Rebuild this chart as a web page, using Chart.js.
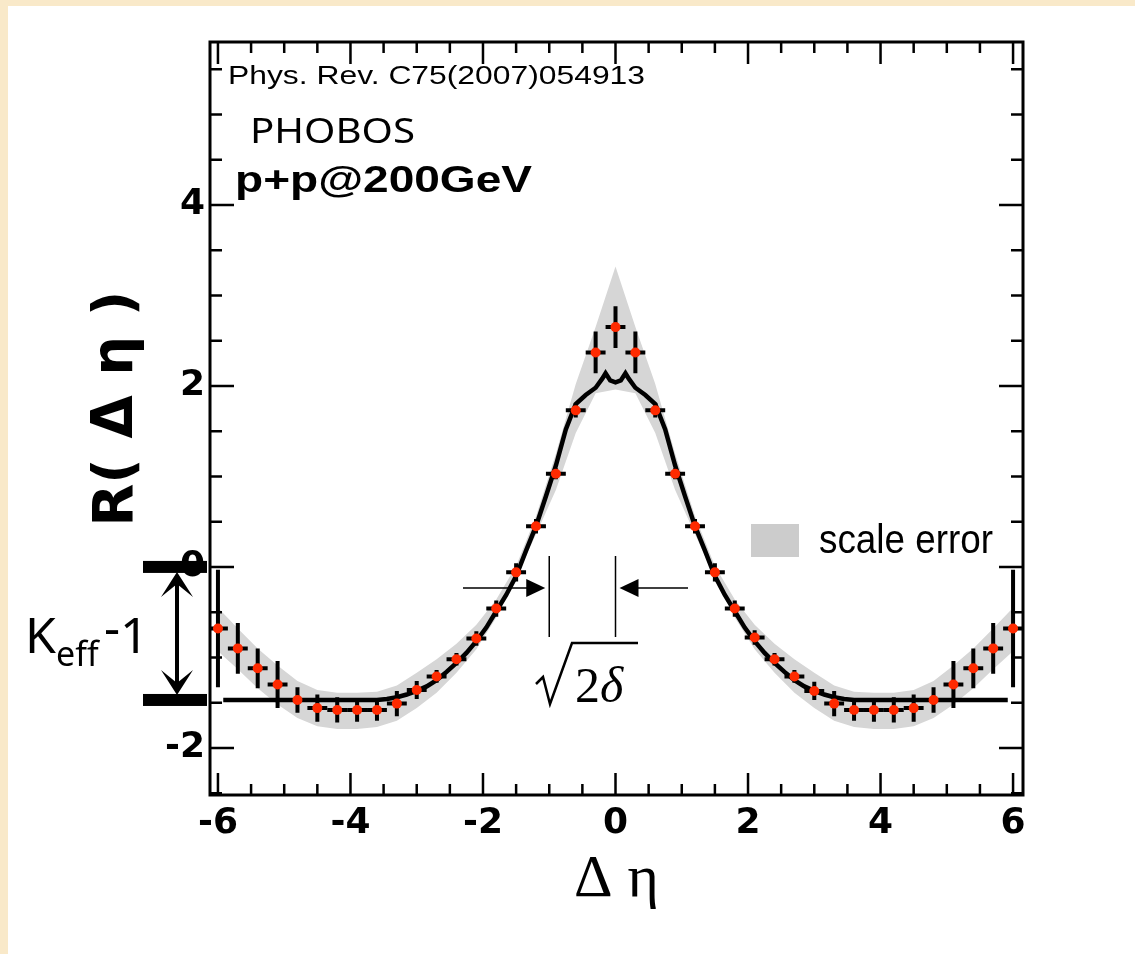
<!DOCTYPE html>
<html>
<head>
<meta charset="utf-8">
<title>PHOBOS R(Δη)</title>
<script src="https://cdn.jsdelivr.net/npm/chart.js@4.4.1/dist/chart.umd.min.js"></script>
<style>
  html, body { margin: 0; padding: 0; background: #f9e9c9; }
  #wrap { width: 1135px; height: 954px; }
</style>
</head>
<body>
<div id="wrap"><canvas id="chart" width="1135" height="954" style="width:1135px;height:954px"></canvas></div>
<script>
// data points (bin centres, 0.3 wide bins)
const etaBins = [-6.0, -5.7, -5.4, -5.1, -4.8, -4.5, -4.2, -3.9, -3.6, -3.3, -3.0, -2.7, -2.4, -2.1,
  -1.8, -1.5, -1.2, -0.9, -0.6, -0.3, 0.0, 0.3, 0.6, 0.9, 1.2, 1.5, 1.8, 2.1, 2.4, 2.7, 3.0, 3.3,
  3.6, 3.9, 4.2, 4.5, 4.8, 5.1, 5.4, 5.7, 6.0];
const rValues = [-0.68, -0.90, -1.12, -1.30, -1.47, -1.56, -1.58, -1.58, -1.58, -1.51, -1.36, -1.21, -1.02, -0.79,
  -0.46, -0.06, 0.45, 1.03, 1.73, 2.37, 2.65, 2.37, 1.73, 1.03, 0.45, -0.06, -0.46, -0.78, -1.02, -1.21, -1.37, -1.51,
  -1.58, -1.58, -1.58, -1.56, -1.47, -1.30, -1.12, -0.90, -0.68];
const rErrors = [0.65, 0.28, 0.22, 0.26, 0.14, 0.15, 0.14, 0.13, 0.12, 0.14, 0.10, 0.07, 0.07, 0.08,
  0.09, 0.10, 0.08, 0.06, 0.08, 0.23, 0.23, 0.23, 0.08, 0.06, 0.08, 0.10, 0.09, 0.08, 0.07, 0.07, 0.10, 0.14,
  0.12, 0.13, 0.14, 0.15, 0.14, 0.26, 0.22, 0.28, 0.65];
const binHalfWidth = 0.15;

// grey scale-error band
const bandLow = [-0.93, -1.13, -1.34, -1.52, -1.67, -1.76, -1.79, -1.79, -1.77, -1.70, -1.56, -1.39, -1.17, -0.91,
  -0.56, -0.12, 0.36, 0.85, 1.48, 1.92, 1.96, 1.92, 1.48, 0.85, 0.36, -0.12, -0.56, -0.91, -1.17, -1.39, -1.56, -1.70,
  -1.77, -1.79, -1.79, -1.76, -1.67, -1.52, -1.34, -1.13, -0.93];
const bandHigh = [-0.45, -0.68, -0.90, -1.09, -1.26, -1.36, -1.39, -1.39, -1.38, -1.31, -1.17, -1.02, -0.85, -0.64,
  -0.36, 0.01, 0.56, 1.25, 2.02, 2.65, 3.32, 2.65, 2.02, 1.25, 0.56, 0.01, -0.36, -0.64, -0.85, -1.02, -1.17, -1.31,
  -1.38, -1.39, -1.39, -1.36, -1.26, -1.09, -0.90, -0.68, -0.45];

// model curve
const curveEta = [-5.92, -3.6, -3.45, -3.3, -3.15, -3.0, -2.85, -2.7, -2.55, -2.4, -2.25, -2.1, -1.95, -1.8,
  -1.65, -1.5, -1.35, -1.2, -1.05, -0.9, -0.75, -0.6, -0.45, -0.3, -0.2, -0.15, -0.08, 0.0,
  0.08, 0.15, 0.2, 0.3, 0.45, 0.6, 0.75, 0.9, 1.05, 1.2, 1.35, 1.5, 1.65, 1.8, 1.95, 2.1, 2.25,
  2.4, 2.55, 2.7, 2.85, 3.0, 3.15, 3.3, 3.45, 3.6, 5.92];
const curveR = [-1.47, -1.47, -1.46, -1.44, -1.41, -1.37, -1.32, -1.25, -1.16, -1.06, -0.95, -0.82, -0.67, -0.49,
  -0.31, -0.10, 0.18, 0.45, 0.78, 1.12, 1.52, 1.80, 1.90, 1.98, 2.08, 2.14, 2.06, 2.04,
  2.06, 2.14, 2.08, 1.98, 1.90, 1.80, 1.52, 1.12, 0.78, 0.45, 0.18, -0.10, -0.31, -0.49, -0.67, -0.82, -0.95,
  -1.06, -1.16, -1.25, -1.32, -1.37, -1.41, -1.44, -1.46, -1.47, -1.47];

const xTickValues = [-6, -4, -2, 0, 2, 4, 6];
const yTickValues = [-2, 0, 2, 4];
const minorStep = 0.5;
const keffTop = 0;
const keffBottom = -1.47;
const deltaMarks = [-1.0, 0.0];

const toXY = (xs, ys) => xs.map((v, i) => ({x: v, y: ys[i]}));

function fitText(ctx, text, x, y, w, font) {
  ctx.font = font;
  const m = ctx.measureText(text).width;
  ctx.save();
  ctx.translate(x, y);
  ctx.scale(w / m, 1);
  ctx.fillText(text, 0, 0);
  ctx.restore();
}

function arrowHead(ctx, tx, ty, dx, len, half) {
  ctx.beginPath();
  ctx.moveTo(tx, ty);
  ctx.lineTo(tx - dx * len, ty - half);
  ctx.lineTo(tx - dx * len, ty + half);
  ctx.closePath();
  ctx.fill();
}

const decorations = {
  id: 'decorations',
  beforeDraw(chart) {
    const {ctx, width, height} = chart;
    ctx.save();
    ctx.fillStyle = '#f9e9c9';
    ctx.fillRect(0, 0, width, height);
    ctx.fillStyle = '#ffffff';
    ctx.fillRect(8, 6, width - 8, height - 6);
    ctx.restore();
  },
  beforeDatasetDraw(chart, args) {
    if (args.index !== 3) return;
    const {ctx, chartArea, scales: {x, y}} = chart;
    ctx.save();
    ctx.beginPath();
    ctx.rect(chartArea.left, chartArea.top, chartArea.right - chartArea.left, chartArea.bottom - chartArea.top);
    ctx.clip();
    ctx.strokeStyle = '#000';
    ctx.lineWidth = 4;
    etaBins.forEach((eta, i) => {
      const px = x.getPixelForValue(eta);
      const py = y.getPixelForValue(rValues[i]);
      ctx.beginPath();
      ctx.moveTo(px, y.getPixelForValue(rValues[i] + rErrors[i]));
      ctx.lineTo(px, y.getPixelForValue(rValues[i] - rErrors[i]));
      ctx.moveTo(x.getPixelForValue(eta - binHalfWidth), py);
      ctx.lineTo(x.getPixelForValue(eta + binHalfWidth), py);
      ctx.stroke();
    });
    ctx.restore();
  },
  afterDraw(chart) {
    const {ctx, chartArea: a, scales: {x, y}} = chart;
    ctx.save();
    ctx.strokeStyle = '#000';
    ctx.fillStyle = '#000';

    // frame
    ctx.lineWidth = 3;
    ctx.strokeRect(a.left, a.top, a.right - a.left, a.bottom - a.top);

    // inward ticks on all four sides
    ctx.lineWidth = 2.5;
    ctx.beginPath();
    for (let v = -6; v <= 6.001; v += minorStep) {
      const px = x.getPixelForValue(v);
      const len = xTickValues.some(t => Math.abs(t - v) < 1e-6) ? 22 : 11;
      ctx.moveTo(px, a.bottom); ctx.lineTo(px, a.bottom - len);
      ctx.moveTo(px, a.top); ctx.lineTo(px, a.top + len);
    }
    for (let v = -2.5; v <= 5.501; v += minorStep) {
      const py = y.getPixelForValue(v);
      const len = yTickValues.some(t => Math.abs(t - v) < 1e-6) ? 24 : 12;
      ctx.moveTo(a.left, py); ctx.lineTo(a.left + len, py);
      ctx.moveTo(a.right, py); ctx.lineTo(a.right - len, py);
    }
    ctx.stroke();

    // text labels
    ctx.textBaseline = 'alphabetic';
    ctx.textAlign = 'left';
    fitText(ctx, 'Phys. Rev. C75(2007)054913', 228, 84, 417, '26px "Liberation Sans"');
    fitText(ctx, 'PHOBOS', 250, 143, 165, '34px "Noto Sans"');
    fitText(ctx, 'p+p@200GeV', 235, 192, 297, 'bold 36px "Liberation Sans"');

    // legend
    ctx.fillStyle = '#cccccc';
    ctx.fillRect(751, 524, 48, 33);
    ctx.fillStyle = '#000';
    fitText(ctx, 'scale error', 819, 553, 174, '40px "Liberation Sans"');

    // Keff-1 marker
    const y0 = y.getPixelForValue(keffTop);
    const y1 = y.getPixelForValue(keffBottom);
    ctx.fillRect(143, y0 - 6, 64, 12);
    ctx.fillRect(143, y1 - 6, 64, 12);
    ctx.lineWidth = 4;
    ctx.beginPath();
    ctx.moveTo(177, y0 + 12); ctx.lineTo(177, y1 - 12);
    ctx.stroke();
    ctx.beginPath();
    ctx.moveTo(177, y0 + 5); ctx.lineTo(193, y0 + 30); ctx.lineTo(177, y0 + 17); ctx.lineTo(161, y0 + 30);
    ctx.closePath(); ctx.fill();
    ctx.beginPath();
    ctx.moveTo(177, y1 - 5); ctx.lineTo(193, y1 - 30); ctx.lineTo(177, y1 - 17); ctx.lineTo(161, y1 - 30);
    ctx.closePath(); ctx.fill();
    ctx.font = '50px "Noto Sans"';
    ctx.fillText('K', 25, 653);
    ctx.font = '34px "Noto Sans"';
    ctx.fillText('eff', 56, 666);
    ctx.font = '50px "Noto Sans"';
    ctx.fillText('-', 104, 645);
    ctx.fillText('1', 120, 653);

    // sqrt(2) delta width marker
    const dl = x.getPixelForValue(deltaMarks[0]);
    const dr = x.getPixelForValue(deltaMarks[1]);
    ctx.lineWidth = 1.5;
    ctx.beginPath();
    ctx.moveTo(dl, 556); ctx.lineTo(dl, 637);
    ctx.moveTo(dr, 556); ctx.lineTo(dr, 637);
    ctx.moveTo(463, 588); ctx.lineTo(dl - 20, 588);
    ctx.moveTo(688, 588); ctx.lineTo(dr + 20, 588);
    ctx.stroke();
    arrowHead(ctx, dl - 4, 588, 1, 19, 9);
    arrowHead(ctx, dr + 4, 588, -1, 19, 9);

    ctx.lineWidth = 2.5;
    ctx.beginPath();
    ctx.moveTo(536, 684); ctx.lineTo(543, 677); ctx.lineTo(550, 704); ctx.lineTo(572, 643); ctx.lineTo(638, 643);
    ctx.stroke();
    ctx.font = '50px "Liberation Serif"';
    ctx.fillText('2', 575, 702);
    ctx.font = 'italic 50px "Liberation Serif"';
    ctx.fillText('δ', 600, 702);

    ctx.restore();
  }
};

new Chart(document.getElementById('chart'), {
  type: 'scatter',
  data: {
    datasets: [
      {
        label: 'band low',
        data: toXY(etaBins, bandLow),
        showLine: true, pointRadius: 0, borderWidth: 0, borderColor: 'rgba(0,0,0,0)',
        fill: false, order: 3
      },
      {
        label: 'scale error',
        data: toXY(etaBins, bandHigh),
        showLine: true, pointRadius: 0, borderWidth: 0, borderColor: 'rgba(0,0,0,0)',
        backgroundColor: '#d6d6d6', fill: '-1', order: 2
      },
      {
        label: 'model',
        data: toXY(curveEta, curveR),
        showLine: true, pointRadius: 0, borderWidth: 4.5, borderColor: '#000',
        fill: false, order: 1
      },
      {
        label: 'data',
        data: toXY(etaBins, rValues),
        showLine: false, pointRadius: 5, pointStyle: 'circle',
        backgroundColor: '#ff2a00', borderWidth: 0, order: 0
      }
    ]
  },
  options: {
    responsive: false,
    animation: false,
    devicePixelRatio: 1,
    layout: { padding: { left: 0, top: 42, right: 112, bottom: 0 } },
    plugins: { legend: { display: false }, tooltip: { enabled: false } },
    scales: {
      x: {
        type: 'linear', min: -6.12, max: 6.15,
        afterFit: s => { s.height = 159; },
        afterBuildTicks: s => { s.ticks = xTickValues.map(v => ({value: v})); },
        grid: { display: false, drawTicks: false },
        border: { display: false },
        ticks: {
          color: '#000', padding: 7, maxRotation: 0, autoSkip: false,
          font: { family: 'DejaVu Sans', weight: 'bold', size: 36 }
        },
        title: {
          display: true, text: 'Δ η', color: '#000',
          font: { family: 'Liberation Serif', size: 60 },
          padding: { top: 0, bottom: 38 }
        }
      },
      y: {
        type: 'linear', min: -2.52, max: 5.80,
        afterFit: s => { s.width = 210; },
        afterBuildTicks: s => { s.ticks = yTickValues.map(v => ({value: v})); },
        grid: { display: false, drawTicks: false },
        border: { display: false },
        ticks: {
          color: '#000', padding: 5,
          font: { family: 'DejaVu Sans', weight: 'bold', size: 36 }
        },
        title: {
          display: true, text: ' R( Δ η )', color: '#000',
          font: { family: 'DejaVu Sans', weight: 'bold', size: 56 },
          padding: { top: 84, bottom: 0 }
        }
      }
    }
  },
  plugins: [decorations]
});
</script>
</body>
</html>
